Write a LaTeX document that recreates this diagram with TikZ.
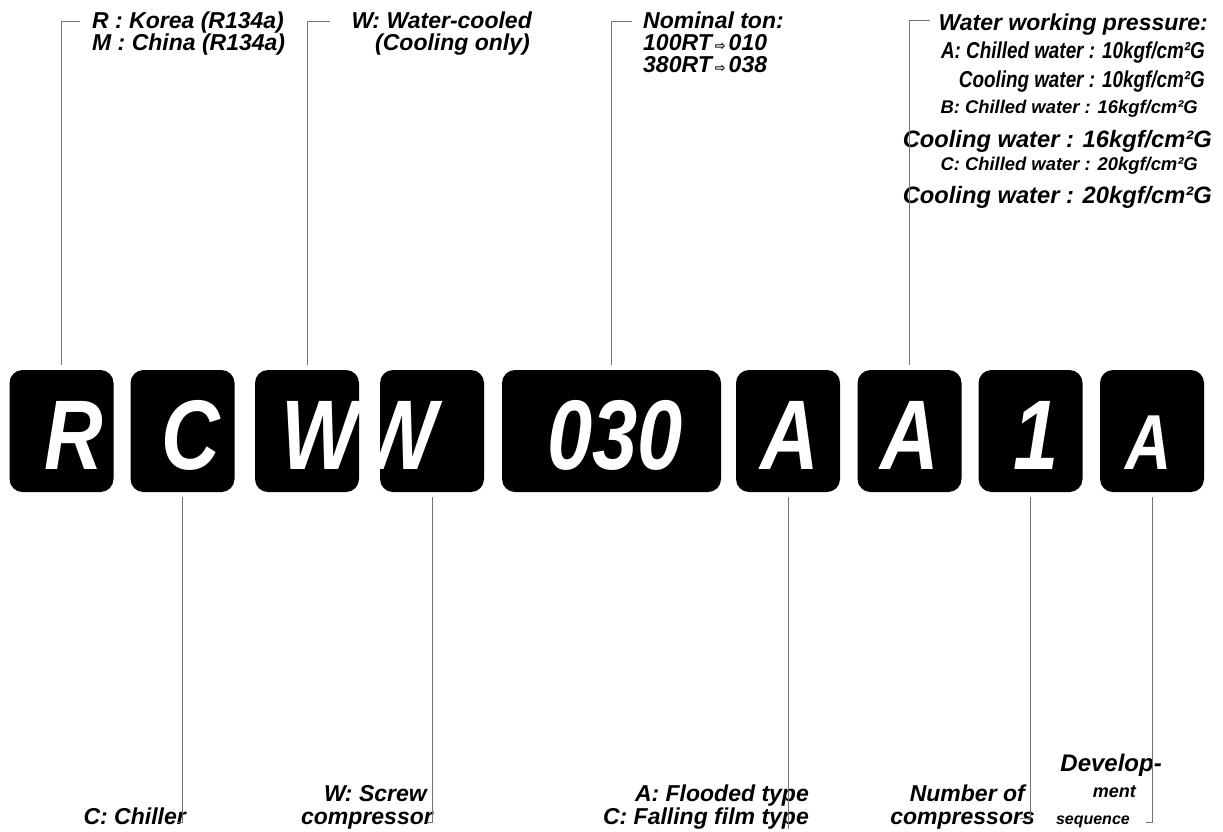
\documentclass[tikz,border=0pt]{standalone}
\usepackage{fontspec}
\setmainfont{Liberation Sans}
\newfontfamily\narrowfont[FakeStretch=0.82]{Liberation Sans}
\newfontfamily\arrowfont{DejaVu Sans}
\definecolor{linegray}{RGB}{115,115,115}
\tikzset{
  keybox/.style={fill=black, rounded corners=13pt, minimum height=122pt, minimum width=104pt, inner sep=0pt},
  bigch/.style={text=white, font=\narrowfont\bfseries\itshape\fontsize{99}{99}\selectfont, anchor=base, inner sep=0pt},
  lbl/.style={font=\bfseries\itshape\fontsize{23}{23}\selectfont, inner sep=0pt},
  lblw/.style={lbl, anchor=base west},
  lble/.style={lbl, anchor=base east},
  conn/.style={draw=linegray, line width=0.8pt},
}
\newcommand{\smallarrow}{\hspace{3pt}{\arrowfont\fontsize{13}{13}\selectfont ⇨}\hspace{3pt}}
\begin{document}
\begin{tikzpicture}[x=1pt,y=-1pt]
\useasboundingbox (0,0) rectangle (1223,831);
% boxes
\node[keybox] (bR) at (61.5,431) {};
\node[keybox] (bC) at (182.5,431) {};
\node[keybox] (bW) at (307,431) {};
\node[keybox] (bW2) at (432,431) {};
\node[keybox, minimum width=219pt] (bN) at (611.5,431) {};
\node[keybox] (bA) at (788,431) {};
\node[keybox] (bA2) at (909.5,431) {};
\node[keybox] (b1) at (1030.5,431) {};
\node[keybox] (bA3) at (1152,431) {};
% letters
\node[bigch] (cR) at (74,469) {R};
\node[bigch] (cC) at (191,469) {C};
\node[bigch] (cW) at (320,469) {W};
\node[bigch] (cW2) at (399,469) {W};
\node[bigch] (cN) at (615,469) {030};
\node[bigch] (cA) at (790,469) {A};
\node[bigch] (cA2) at (910,469) {A};
\node[bigch] (c1) at (1036,469) {1};
\node[bigch, font=\narrowfont\bfseries\itshape\fontsize{78}{78}\selectfont] (cA3) at (1149,469) {A};
% top labels
\node[lblw] (t1a) at (92,28) {R : Korea (R134a)};
\node[lblw] (t1b) at (92,50) {M : China (R134a)};
\node[lble] (t2a) at (532,28) {W: Water-cooled};
\node[lble] (t2b) at (530,50) {(Cooling only)};
\node[lblw] (t3a) at (643,28) {Nominal ton:};
\node[lblw] (t3b) at (643,50) {100RT\smallarrow 010};
\node[lblw] (t3c) at (643,72) {380RT\smallarrow 038};
\node[lble] (t4a) at (1208,30) {Water working pressure:};
\node[lble, font=\narrowfont\bfseries\itshape\fontsize{23}{23}\selectfont] (t4b) at (1205,58) {A: Chilled water : 10kgf/cm²G};
\node[lble, font=\narrowfont\bfseries\itshape\fontsize{23}{23}\selectfont] (t4c) at (1205,87) {Cooling water : 10kgf/cm²G};
\node[lble, font=\bfseries\itshape\fontsize{18.4}{18}\selectfont] (t4d) at (1198,113) {B: Chilled water : 16kgf/cm²G};
\node[lble, font=\bfseries\itshape\fontsize{23.7}{24}\selectfont] (t4e) at (1212,147) {Cooling water : 16kgf/cm²G};
\node[lble, font=\bfseries\itshape\fontsize{18.4}{18}\selectfont] (t4f) at (1198,170) {C: Chilled water : 20kgf/cm²G};
\node[lble, font=\bfseries\itshape\fontsize{23.7}{24}\selectfont] (t4g) at (1212,203) {Cooling water : 20kgf/cm²G};
% bottom labels
\node[lble] (u1) at (186,824) {C: Chiller};
\node[lble] (u2a) at (427,801) {W: Screw};
\node[lble] (u2b) at (433,824) {compressor};
\node[lble] (u3a) at (809,801) {A: Flooded type};
\node[lble] (u3b) at (809,824) {C: Falling film type};
\node[lble] (u4a) at (1025,801) {Number of};
\node[lble] (u4b) at (1035,824) {compressors};
\node[lble, font=\bfseries\itshape\fontsize{24}{24}\selectfont] (u5a) at (1162,771) {Develop-};
\node[lble, font=\bfseries\itshape\fontsize{18}{18}\selectfont] (u5b) at (1136,797) {ment};
\node[lble, font=\bfseries\itshape\fontsize{16}{16}\selectfont] (u5c) at (1130,824) {sequence};
% connector end points
\coordinate (eR) at (80,21);
\coordinate (eW) at (330,21);
\coordinate (eN) at (632,21);
\coordinate (eA2) at (930,20);
\coordinate (eC) at (178,822);
\coordinate (eW2) at (427,822);
\coordinate (eA) at (788,829);
\coordinate (e1) at (1020,818);
\coordinate (eA3) at (1146,822);
% connectors
\draw[conn] ([yshift=5pt]bR.north) |- (eR);
\draw[conn] ([yshift=5pt]bW.north) |- (eW);
\draw[conn] ([yshift=5pt]bN.north) |- (eN);
\draw[conn] ([yshift=5pt]bA2.north) |- (eA2);
\draw[conn] ([yshift=-5pt]bC.south) |- (eC);
\draw[conn] ([yshift=-5pt]bW2.south) |- (eW2);
\draw[conn] ([yshift=-5pt]bA.south) -- (eA);
\draw[conn] ([yshift=-5pt]b1.south) |- (e1);
\draw[conn] ([yshift=-5pt]bA3.south) |- (eA3);
\end{tikzpicture}
\end{document}
